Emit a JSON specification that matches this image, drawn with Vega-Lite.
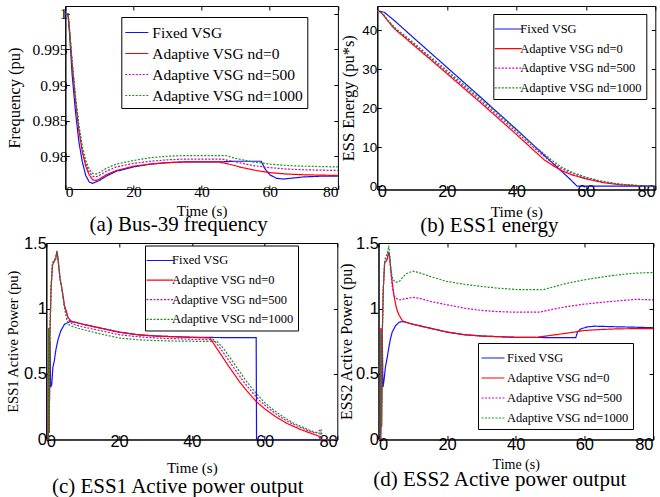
{
"$schema": "https://vega.github.io/schema/vega-lite/v6.json",
"padding": {"left": 4.3, "top": 5, "right": 0, "bottom": 0},
"background": "white",
"config": {
 "view": {"stroke": "#000", "strokeWidth": 1},
 "axis": {"grid": false, "domainColor": "#000", "domainWidth": 1, "tickColor": "#000", "tickSize": -4, "labelColor": "#000", "titleColor": "#000", "titleFontWeight": "normal", "labelFont": "Liberation Sans", "titleFont": "Liberation Serif", "labelAngle": 0},
 "legend": {"orient": "none", "strokeColor": "#000", "fillColor": "#fff", "padding": 4, "symbolStrokeWidth": 1.3, "labelFont": "Liberation Serif", "labelColor": "#000", "labelOffset": 3, "rowPadding": 0, "cornerRadius": 0, "labelLimit": 400},
 "title": {"font": "Liberation Serif", "fontSize": 21, "fontWeight": "normal", "color": "#000", "anchor": "middle"},
 "line": {"strokeWidth": 1.2}
},
"datasets": {
 "a": [
  {"s":"F","t":0,"v":1},{"s":"F","t":0.8,"v":1},{"s":"F","t":1.2,"v":0.9975},{"s":"F","t":2,"v":0.9915},{"s":"F","t":3,"v":0.9862},{"s":"F","t":4,"v":0.982},{"s":"F","t":5,"v":0.9792},{"s":"F","t":6,"v":0.9773},{"s":"F","t":7,"v":0.9764},{"s":"F","t":8,"v":0.9762},{"s":"F","t":10,"v":0.9766},{"s":"F","t":12,"v":0.9772},{"s":"F","t":15,"v":0.9779},{"s":"F","t":20,"v":0.9785},{"s":"F","t":25,"v":0.9789},{"s":"F","t":30,"v":0.9791},{"s":"F","t":35,"v":0.9792},{"s":"F","t":40,"v":0.9792},{"s":"F","t":45,"v":0.9792},{"s":"F","t":50,"v":0.9793},{"s":"F","t":57.5,"v":0.9793},{"s":"F","t":58.5,"v":0.9783},{"s":"F","t":60,"v":0.9774},{"s":"F","t":62,"v":0.9769},{"s":"F","t":64,"v":0.9768},{"s":"F","t":66,"v":0.9769},{"s":"F","t":70,"v":0.9771},{"s":"F","t":75,"v":0.9772},{"s":"F","t":80,"v":0.9772},
  {"s":"A0","t":0,"v":1},{"s":"A0","t":0.8,"v":1},{"s":"A0","t":1.2,"v":0.998},{"s":"A0","t":2,"v":0.993},{"s":"A0","t":3,"v":0.9878},{"s":"A0","t":4,"v":0.9836},{"s":"A0","t":5,"v":0.9806},{"s":"A0","t":6,"v":0.9786},{"s":"A0","t":7,"v":0.9774},{"s":"A0","t":8,"v":0.9767},{"s":"A0","t":9,"v":0.9766},{"s":"A0","t":10,"v":0.9768},{"s":"A0","t":12,"v":0.9774},{"s":"A0","t":15,"v":0.978},{"s":"A0","t":20,"v":0.9786},{"s":"A0","t":25,"v":0.9789},{"s":"A0","t":30,"v":0.9791},{"s":"A0","t":35,"v":0.9792},{"s":"A0","t":40,"v":0.9792},{"s":"A0","t":45,"v":0.9792},{"s":"A0","t":48,"v":0.9789},{"s":"A0","t":52,"v":0.9784},{"s":"A0","t":56,"v":0.978},{"s":"A0","t":60,"v":0.9777},{"s":"A0","t":65,"v":0.9775},{"s":"A0","t":70,"v":0.9774},{"s":"A0","t":80,"v":0.9773},
  {"s":"A500","t":0,"v":1},{"s":"A500","t":0.8,"v":1},{"s":"A500","t":1.2,"v":0.998},{"s":"A500","t":2,"v":0.9932},{"s":"A500","t":3,"v":0.9881},{"s":"A500","t":4,"v":0.984},{"s":"A500","t":5,"v":0.981},{"s":"A500","t":6,"v":0.979},{"s":"A500","t":7,"v":0.9778},{"s":"A500","t":8,"v":0.9772},{"s":"A500","t":9,"v":0.9771},{"s":"A500","t":10,"v":0.9773},{"s":"A500","t":12,"v":0.9779},{"s":"A500","t":15,"v":0.9785},{"s":"A500","t":20,"v":0.979},{"s":"A500","t":25,"v":0.9793},{"s":"A500","t":30,"v":0.9795},{"s":"A500","t":35,"v":0.9796},{"s":"A500","t":40,"v":0.9796},{"s":"A500","t":46,"v":0.9796},{"s":"A500","t":50,"v":0.9792},{"s":"A500","t":55,"v":0.9787},{"s":"A500","t":60,"v":0.9784},{"s":"A500","t":65,"v":0.9782},{"s":"A500","t":70,"v":0.9781},{"s":"A500","t":80,"v":0.978},
  {"s":"A1000","t":0,"v":1},{"s":"A1000","t":0.8,"v":1},{"s":"A1000","t":1.2,"v":0.998},{"s":"A1000","t":2,"v":0.9934},{"s":"A1000","t":3,"v":0.9884},{"s":"A1000","t":4,"v":0.9844},{"s":"A1000","t":5,"v":0.9814},{"s":"A1000","t":6,"v":0.9794},{"s":"A1000","t":7,"v":0.9782},{"s":"A1000","t":8,"v":0.9776},{"s":"A1000","t":9,"v":0.9775},{"s":"A1000","t":10,"v":0.9777},{"s":"A1000","t":12,"v":0.9783},{"s":"A1000","t":15,"v":0.9789},{"s":"A1000","t":20,"v":0.9794},{"s":"A1000","t":25,"v":0.9798},{"s":"A1000","t":30,"v":0.98},{"s":"A1000","t":35,"v":0.9801},{"s":"A1000","t":40,"v":0.9801},{"s":"A1000","t":47,"v":0.9801},{"s":"A1000","t":50,"v":0.9797},{"s":"A1000","t":55,"v":0.9792},{"s":"A1000","t":60,"v":0.9789},{"s":"A1000","t":65,"v":0.9787},{"s":"A1000","t":70,"v":0.9786},{"s":"A1000","t":80,"v":0.9785}
 ],
 "b": [
  {"s":"F","t":0,"v":45},{"s":"F","t":2,"v":44.6},{"s":"F","t":5,"v":42.4},{"s":"F","t":10,"v":38.4},{"s":"F","t":20,"v":30.5},{"s":"F","t":30,"v":22.6},{"s":"F","t":40,"v":14.6},{"s":"F","t":50,"v":6.3},{"s":"F","t":55,"v":2.2},{"s":"F","t":57.5,"v":0},{"s":"F","t":80,"v":0},
  {"s":"A0","t":0,"v":45},{"s":"A0","t":1,"v":44.6},{"s":"A0","t":2,"v":43.6},{"s":"A0","t":3,"v":42.4},{"s":"A0","t":5,"v":40.3},{"s":"A0","t":7,"v":38.8},{"s":"A0","t":10,"v":36.5},{"s":"A0","t":15,"v":32.7},{"s":"A0","t":20,"v":28.9},{"s":"A0","t":30,"v":21.2},{"s":"A0","t":40,"v":13.3},{"s":"A0","t":45,"v":9.2},{"s":"A0","t":48,"v":6.8},{"s":"A0","t":50,"v":5.6},{"s":"A0","t":53,"v":4},{"s":"A0","t":56,"v":2.9},{"s":"A0","t":60,"v":1.9},{"s":"A0","t":65,"v":0.9},{"s":"A0","t":70,"v":0.35},{"s":"A0","t":75,"v":0.1},
  {"s":"A500","t":0,"v":45},{"s":"A500","t":1,"v":44.6},{"s":"A500","t":2,"v":43.7},{"s":"A500","t":3,"v":42.5},{"s":"A500","t":5,"v":40.5},{"s":"A500","t":10,"v":36.8},{"s":"A500","t":20,"v":29.3},{"s":"A500","t":30,"v":21.7},{"s":"A500","t":40,"v":13.9},{"s":"A500","t":45,"v":9.9},{"s":"A500","t":50,"v":6.2},{"s":"A500","t":53,"v":4.5},{"s":"A500","t":56,"v":3.3},{"s":"A500","t":60,"v":2.1},{"s":"A500","t":65,"v":1.1},{"s":"A500","t":70,"v":0.5},{"s":"A500","t":76,"v":0.1},{"s":"A500","t":80,"v":0.05},
  {"s":"A1000","t":0,"v":45},{"s":"A1000","t":1,"v":44.6},{"s":"A1000","t":2,"v":43.8},{"s":"A1000","t":3,"v":42.6},{"s":"A1000","t":5,"v":40.7},{"s":"A1000","t":10,"v":37.1},{"s":"A1000","t":20,"v":29.7},{"s":"A1000","t":30,"v":22.2},{"s":"A1000","t":40,"v":14.4},{"s":"A1000","t":45,"v":10.5},{"s":"A1000","t":50,"v":6.8},{"s":"A1000","t":53,"v":4.9},{"s":"A1000","t":56,"v":3.6},{"s":"A1000","t":60,"v":2.3},{"s":"A1000","t":65,"v":1.2},{"s":"A1000","t":70,"v":0.5},{"s":"A1000","t":76,"v":0.1},{"s":"A1000","t":80,"v":0.05}
 ],
 "c": [
  {"s":"F","t":0,"v":0},{"s":"F","t":0.55,"v":0},{"s":"F","t":0.65,"v":0.85},{"s":"F","t":0.8,"v":0.05},{"s":"F","t":1,"v":0.75},{"s":"F","t":1.2,"v":0.4},{"s":"F","t":1.5,"v":0.42},{"s":"F","t":1.8,"v":0.55},{"s":"F","t":2.2,"v":0.6},{"s":"F","t":2.6,"v":0.68},{"s":"F","t":3.2,"v":0.76},{"s":"F","t":4,"v":0.83},{"s":"F","t":5,"v":0.88},{"s":"F","t":6.5,"v":0.9},{"s":"F","t":8,"v":0.895},{"s":"F","t":10,"v":0.88},{"s":"F","t":15,"v":0.85},{"s":"F","t":20,"v":0.82},{"s":"F","t":25,"v":0.8},{"s":"F","t":30,"v":0.79},{"s":"F","t":35,"v":0.785},{"s":"F","t":40,"v":0.78},{"s":"F","t":50,"v":0.778},{"s":"F","t":57.7,"v":0.778},{"s":"F","t":57.8,"v":0},{"s":"F","t":80,"v":0},
  {"s":"A0","t":0,"v":0},{"s":"A0","t":0.55,"v":0},{"s":"A0","t":0.65,"v":0.85},{"s":"A0","t":0.8,"v":0.05},{"s":"A0","t":1,"v":0.8},{"s":"A0","t":1.3,"v":1.15},{"s":"A0","t":1.7,"v":1.33},{"s":"A0","t":2.2,"v":1.36},{"s":"A0","t":2.6,"v":1.38},{"s":"A0","t":2.9,"v":1.44},{"s":"A0","t":3.2,"v":1.38},{"s":"A0","t":3.5,"v":1.3},{"s":"A0","t":3.8,"v":1.22},{"s":"A0","t":4.2,"v":1.17},{"s":"A0","t":4.6,"v":1.1},{"s":"A0","t":5,"v":1.02},{"s":"A0","t":5.5,"v":0.98},{"s":"A0","t":6,"v":0.93},{"s":"A0","t":7,"v":0.9},{"s":"A0","t":8,"v":0.895},{"s":"A0","t":10,"v":0.88},{"s":"A0","t":15,"v":0.85},{"s":"A0","t":20,"v":0.82},{"s":"A0","t":25,"v":0.8},{"s":"A0","t":30,"v":0.79},{"s":"A0","t":35,"v":0.785},{"s":"A0","t":40,"v":0.78},{"s":"A0","t":45,"v":0.775},{"s":"A0","t":47,"v":0.69},{"s":"A0","t":50,"v":0.565},{"s":"A0","t":53,"v":0.445},{"s":"A0","t":55,"v":0.375},{"s":"A0","t":57.7,"v":0.29},{"s":"A0","t":60,"v":0.235},{"s":"A0","t":63,"v":0.175},{"s":"A0","t":66,"v":0.125},{"s":"A0","t":70,"v":0.075},{"s":"A0","t":73,"v":0.045},{"s":"A0","t":75,"v":0.025},{"s":"A0","t":75.3,"v":0},{"s":"A0","t":80,"v":0},
  {"s":"A500","t":0,"v":0},{"s":"A500","t":0.55,"v":0},{"s":"A500","t":0.65,"v":0.85},{"s":"A500","t":0.8,"v":0.05},{"s":"A500","t":1,"v":0.8},{"s":"A500","t":1.3,"v":1.15},{"s":"A500","t":1.7,"v":1.34},{"s":"A500","t":2.2,"v":1.37},{"s":"A500","t":2.6,"v":1.38},{"s":"A500","t":2.9,"v":1.43},{"s":"A500","t":3.2,"v":1.38},{"s":"A500","t":3.5,"v":1.3},{"s":"A500","t":3.8,"v":1.22},{"s":"A500","t":4.2,"v":1.16},{"s":"A500","t":4.6,"v":1.09},{"s":"A500","t":5,"v":1.02},{"s":"A500","t":5.5,"v":0.97},{"s":"A500","t":6,"v":0.92},{"s":"A500","t":7,"v":0.885},{"s":"A500","t":8,"v":0.875},{"s":"A500","t":10,"v":0.86},{"s":"A500","t":15,"v":0.83},{"s":"A500","t":20,"v":0.8},{"s":"A500","t":25,"v":0.785},{"s":"A500","t":30,"v":0.775},{"s":"A500","t":35,"v":0.77},{"s":"A500","t":40,"v":0.765},{"s":"A500","t":46,"v":0.762},{"s":"A500","t":48,"v":0.69},{"s":"A500","t":51,"v":0.57},{"s":"A500","t":54,"v":0.45},{"s":"A500","t":56,"v":0.38},{"s":"A500","t":58.7,"v":0.295},{"s":"A500","t":61,"v":0.24},{"s":"A500","t":64,"v":0.178},{"s":"A500","t":67,"v":0.128},{"s":"A500","t":71,"v":0.078},{"s":"A500","t":74,"v":0.047},{"s":"A500","t":75.2,"v":0.07},{"s":"A500","t":75.5,"v":0},{"s":"A500","t":80,"v":0},
  {"s":"A1000","t":0,"v":0},{"s":"A1000","t":0.55,"v":0},{"s":"A1000","t":0.65,"v":0.85},{"s":"A1000","t":0.8,"v":0.05},{"s":"A1000","t":1,"v":0.8},{"s":"A1000","t":1.3,"v":1.15},{"s":"A1000","t":1.7,"v":1.35},{"s":"A1000","t":2.2,"v":1.37},{"s":"A1000","t":2.6,"v":1.39},{"s":"A1000","t":3,"v":1.44},{"s":"A1000","t":3.3,"v":1.37},{"s":"A1000","t":3.6,"v":1.28},{"s":"A1000","t":4,"v":1.2},{"s":"A1000","t":4.5,"v":1.1},{"s":"A1000","t":5,"v":1.0},{"s":"A1000","t":5.5,"v":0.93},{"s":"A1000","t":6,"v":0.88},{"s":"A1000","t":7,"v":0.865},{"s":"A1000","t":8,"v":0.855},{"s":"A1000","t":10,"v":0.84},{"s":"A1000","t":15,"v":0.805},{"s":"A1000","t":20,"v":0.775},{"s":"A1000","t":25,"v":0.762},{"s":"A1000","t":30,"v":0.755},{"s":"A1000","t":35,"v":0.752},{"s":"A1000","t":40,"v":0.75},{"s":"A1000","t":47,"v":0.748},{"s":"A1000","t":49,"v":0.685},{"s":"A1000","t":52,"v":0.565},{"s":"A1000","t":55,"v":0.445},{"s":"A1000","t":57,"v":0.375},{"s":"A1000","t":59.7,"v":0.29},{"s":"A1000","t":62,"v":0.235},{"s":"A1000","t":65,"v":0.175},{"s":"A1000","t":68,"v":0.125},{"s":"A1000","t":72,"v":0.075},{"s":"A1000","t":75,"v":0.045},{"s":"A1000","t":75.6,"v":0.07},{"s":"A1000","t":75.9,"v":0},{"s":"A1000","t":80,"v":0}
 ],
 "d": [
  {"s":"F","t":0,"v":0},{"s":"F","t":0.6,"v":0},{"s":"F","t":0.7,"v":0.08},{"s":"F","t":0.9,"v":0.3},{"s":"F","t":1.1,"v":0.8},{"s":"F","t":1.3,"v":0.4},{"s":"F","t":1.6,"v":0.45},{"s":"F","t":2,"v":0.55},{"s":"F","t":2.5,"v":0.62},{"s":"F","t":3,"v":0.7},{"s":"F","t":3.5,"v":0.77},{"s":"F","t":4,"v":0.82},{"s":"F","t":5,"v":0.87},{"s":"F","t":6,"v":0.895},{"s":"F","t":7,"v":0.9},{"s":"F","t":8,"v":0.895},{"s":"F","t":10,"v":0.88},{"s":"F","t":15,"v":0.85},{"s":"F","t":20,"v":0.82},{"s":"F","t":25,"v":0.8},{"s":"F","t":30,"v":0.79},{"s":"F","t":35,"v":0.785},{"s":"F","t":40,"v":0.78},{"s":"F","t":50,"v":0.778},{"s":"F","t":57.5,"v":0.778},{"s":"F","t":58,"v":0.82},{"s":"F","t":59,"v":0.845},{"s":"F","t":61,"v":0.86},{"s":"F","t":63,"v":0.865},{"s":"F","t":70,"v":0.86},{"s":"F","t":75,"v":0.857},{"s":"F","t":80,"v":0.853},
  {"s":"A0","t":0,"v":0},{"s":"A0","t":0.6,"v":0},{"s":"A0","t":0.7,"v":0.85},{"s":"A0","t":0.9,"v":0.1},{"s":"A0","t":1.1,"v":0.8},{"s":"A0","t":1.4,"v":1.15},{"s":"A0","t":1.8,"v":1.35},{"s":"A0","t":2.2,"v":1.36},{"s":"A0","t":2.6,"v":1.38},{"s":"A0","t":2.9,"v":1.43},{"s":"A0","t":3.2,"v":1.4},{"s":"A0","t":3.6,"v":1.3},{"s":"A0","t":4,"v":1.2},{"s":"A0","t":4.5,"v":1.1},{"s":"A0","t":5,"v":1.03},{"s":"A0","t":5.5,"v":0.98},{"s":"A0","t":6,"v":0.95},{"s":"A0","t":7,"v":0.905},{"s":"A0","t":8,"v":0.895},{"s":"A0","t":10,"v":0.88},{"s":"A0","t":15,"v":0.85},{"s":"A0","t":20,"v":0.82},{"s":"A0","t":25,"v":0.8},{"s":"A0","t":30,"v":0.79},{"s":"A0","t":35,"v":0.785},{"s":"A0","t":40,"v":0.78},{"s":"A0","t":46,"v":0.78},{"s":"A0","t":50,"v":0.794},{"s":"A0","t":55,"v":0.812},{"s":"A0","t":60,"v":0.832},{"s":"A0","t":65,"v":0.84},{"s":"A0","t":70,"v":0.845},{"s":"A0","t":80,"v":0.847},
  {"s":"A500","t":0,"v":0},{"s":"A500","t":0.6,"v":0},{"s":"A500","t":0.7,"v":0.85},{"s":"A500","t":0.9,"v":0.1},{"s":"A500","t":1.1,"v":0.8},{"s":"A500","t":1.4,"v":1.15},{"s":"A500","t":1.8,"v":1.35},{"s":"A500","t":2.2,"v":1.37},{"s":"A500","t":2.6,"v":1.39},{"s":"A500","t":2.9,"v":1.43},{"s":"A500","t":3.2,"v":1.4},{"s":"A500","t":3.5,"v":1.3},{"s":"A500","t":4,"v":1.17},{"s":"A500","t":4.5,"v":1.1},{"s":"A500","t":5,"v":1.08},{"s":"A500","t":6,"v":1.065},{"s":"A500","t":8,"v":1.075},{"s":"A500","t":10,"v":1.085},{"s":"A500","t":12,"v":1.078},{"s":"A500","t":15,"v":1.055},{"s":"A500","t":20,"v":1.028},{"s":"A500","t":25,"v":1.003},{"s":"A500","t":30,"v":0.985},{"s":"A500","t":35,"v":0.976},{"s":"A500","t":40,"v":0.972},{"s":"A500","t":47,"v":0.972},{"s":"A500","t":50,"v":0.99},{"s":"A500","t":55,"v":1.015},{"s":"A500","t":60,"v":1.033},{"s":"A500","t":65,"v":1.047},{"s":"A500","t":70,"v":1.059},{"s":"A500","t":75,"v":1.07},{"s":"A500","t":80,"v":1.066},
  {"s":"A1000","t":0,"v":0},{"s":"A1000","t":0.6,"v":0},{"s":"A1000","t":0.7,"v":0.82},{"s":"A1000","t":0.9,"v":0.1},{"s":"A1000","t":1.1,"v":0.8},{"s":"A1000","t":1.4,"v":1.15},{"s":"A1000","t":1.8,"v":1.37},{"s":"A1000","t":2.2,"v":1.4},{"s":"A1000","t":2.6,"v":1.42},{"s":"A1000","t":3,"v":1.48},{"s":"A1000","t":3.3,"v":1.4},{"s":"A1000","t":3.7,"v":1.28},{"s":"A1000","t":4.2,"v":1.22},{"s":"A1000","t":5,"v":1.2},{"s":"A1000","t":6,"v":1.205},{"s":"A1000","t":7,"v":1.235},{"s":"A1000","t":8,"v":1.265},{"s":"A1000","t":10,"v":1.285},{"s":"A1000","t":12,"v":1.272},{"s":"A1000","t":15,"v":1.245},{"s":"A1000","t":20,"v":1.206},{"s":"A1000","t":25,"v":1.185},{"s":"A1000","t":30,"v":1.168},{"s":"A1000","t":35,"v":1.155},{"s":"A1000","t":40,"v":1.145},{"s":"A1000","t":48,"v":1.143},{"s":"A1000","t":50,"v":1.158},{"s":"A1000","t":55,"v":1.193},{"s":"A1000","t":60,"v":1.219},{"s":"A1000","t":65,"v":1.24},{"s":"A1000","t":70,"v":1.257},{"s":"A1000","t":75,"v":1.27},{"s":"A1000","t":80,"v":1.275}
 ]
},
"spacing": -3,
"resolve": {"legend": {"color": "independent"}},
"vconcat": [
 {"hconcat": [
  {"width": 18.4, "height": 1, "data": {"values": []}, "mark": {"type": "point"}, "encoding": {}, "view": {"stroke": null}},
  {"width": 272.6, "height": 183, "data": {"name": "a"},
   "title": {"text": "(a) Bus-39 frequency", "orient": "bottom", "dx": -23, "offset": -4.5},
   "resolve": {"axis": {"x": "independent", "y": "independent"}},
   "layer": [
    {"mark": {"type": "line", "clip": true},
     "encoding": {
      "x": {"field": "t", "type": "quantitative", "scale": {"domain": [0, 80], "nice": false}, "axis": {"values": [0, 20, 40, 60, 80], "title": "Time (s)", "titleFont": "Liberation Serif", "titleFontWeight": "normal", "labelFont": "Liberation Serif", "labelFontSize": 15.5, "titleFontSize": 15, "labelPadding": -1, "titlePadding": 4}},
      "y": {"field": "v", "type": "quantitative", "scale": {"domain": [0.9754, 1.0011], "nice": false, "zero": false}, "axis": {"values": [0.98, 0.985, 0.99, 0.995, 1], "format": "~g", "title": "Frequency (pu)", "titleFont": "Liberation Serif", "titleFontWeight": "normal", "labelFont": "Liberation Serif", "labelFontSize": 15.5, "titleFontSize": 16.5, "labelPadding": 2.4, "titlePadding": 10}},
      "color": {"field": "s", "type": "nominal", "scale": {"domain": ["F", "A0", "A500", "A1000"], "range": ["#1010ff", "#ff0000", "#cc00cc", "#119911"]}, "legend": {"title": null, "legendX": 56, "legendY": 11, "labelFontSize": 15.5, "symbolType": "M-1.1,0H1.1", "symbolSize": 441, "rowPadding": 1, "labelOffset": 4, "symbolDash": {"expr": "datum.value == 'A500' || datum.value == 'A1000' ? [2, 1.5] : [1, 0]"}, "labelExpr": "{'F':'Fixed VSG','A0':'Adaptive VSG nd=0','A500':'Adaptive VSG nd=500','A1000':'Adaptive VSG nd=1000'}[datum.label]"}},
      "strokeDash": {"field": "s", "type": "nominal", "scale": {"domain": ["F", "A0", "A500", "A1000"], "range": [[1, 0], [1, 0], [2, 1.5], [2, 1.5]]}, "legend": null}
     }},
    {"mark": {"type": "point", "opacity": 0},
     "encoding": {
      "x": {"field": "t", "type": "quantitative", "axis": {"orient": "top", "values": [0, 20, 40, 60, 80], "labels": false, "title": null, "domain": false}},
      "y": {"field": "v", "type": "quantitative", "axis": {"orient": "right", "values": [0.98, 0.985, 0.99, 0.995, 1], "labels": false, "title": null, "domain": false}}
     }}
   ]},
  {"width": 39, "height": 1, "data": {"values": []}, "mark": {"type": "point"}, "encoding": {}, "view": {"stroke": null}},
  {"width": 278, "height": 183.5, "data": {"name": "b"},
   "title": {"text": "(b) ESS1 energy", "orient": "bottom", "dx": -27, "offset": -4.5},
   "resolve": {"axis": {"x": "independent", "y": "independent"}},
   "layer": [
    {"mark": {"type": "line", "clip": true},
     "encoding": {
      "x": {"field": "t", "type": "quantitative", "scale": {"domain": [0, 80], "nice": false}, "axis": {"values": [0, 20, 40, 60, 80], "title": "Time (s)", "titleFont": "Liberation Serif", "titleFontWeight": "normal", "labelFontSize": 16.5, "titleFontSize": 15.5, "labelPadding": -2, "titlePadding": 4}},
      "y": {"field": "v", "type": "quantitative", "scale": {"domain": [-0.85, 46.2], "nice": false, "zero": false}, "axis": {"values": [0, 10, 20, 30, 40], "title": "ESS Energy (pu*s)", "titleFont": "Liberation Serif", "titleFontWeight": "normal", "labelFontSize": 13.5, "titleFontSize": 16.5, "labelPadding": 4.6, "titlePadding": 5}},
      "color": {"field": "s", "type": "nominal", "scale": {"domain": ["F", "A0", "A500", "A1000"], "range": ["#1010ff", "#ff0000", "#cc00cc", "#119911"]}, "legend": {"title": null, "legendX": 116, "legendY": 8, "labelFontSize": 12.5, "symbolType": "M-1.35,0H1.35", "symbolSize": 400, "rowPadding": 1.6, "labelOffset": 1, "symbolDash": {"expr": "datum.value == 'A500' || datum.value == 'A1000' ? [2, 1.5] : [1, 0]"}, "labelExpr": "{'F':'Fixed VSG','A0':'Adaptive VSG nd=0','A500':'Adaptive VSG nd=500','A1000':'Adaptive VSG nd=1000'}[datum.label]"}},
      "strokeDash": {"field": "s", "type": "nominal", "scale": {"domain": ["F", "A0", "A500", "A1000"], "range": [[1, 0], [1, 0], [2, 1.5], [2, 1.5]]}, "legend": null}
     }},
    {"mark": {"type": "point", "opacity": 0},
     "encoding": {
      "x": {"field": "t", "type": "quantitative", "axis": {"orient": "top", "values": [0, 20, 40, 60, 80], "labels": false, "title": null, "domain": false}},
      "y": {"field": "v", "type": "quantitative", "axis": {"orient": "right", "values": [0, 10, 20, 30, 40], "labels": false, "title": null, "domain": false}}
     }}
   ]}
 ], "spacing": 0, "bounds": "flush",
 "resolve": {"legend": {"color": "independent"}}},
 {"hconcat": [
  {"width": 291, "height": 196.5, "data": {"name": "c"},
   "title": {"text": "(c) ESS1 Active power output", "orient": "bottom", "dx": -14, "offset": 0.3},
   "resolve": {"axis": {"x": "independent", "y": "independent"}},
   "layer": [
    {"mark": {"type": "line", "clip": true},
     "encoding": {
      "x": {"field": "t", "type": "quantitative", "scale": {"domain": [0, 80], "nice": false}, "axis": {"values": [0, 20, 40, 60, 80], "title": "Time (s)", "titleFont": "Liberation Serif", "titleFontWeight": "normal", "labelFontSize": 16.5, "titleFontSize": 15, "labelPadding": -2, "titlePadding": 11}},
      "y": {"field": "v", "type": "quantitative", "scale": {"domain": [0, 1.5], "nice": false, "zero": false}, "axis": {"values": [0, 0.5, 1, 1.5], "format": "~g", "title": "ESS1  Active Power (pu)", "titleFont": "Liberation Serif", "titleFontWeight": "normal", "labelFontSize": 16.5, "titleFontSize": 14.5, "labelPadding": 4, "titlePadding": 3}},
      "color": {"field": "s", "type": "nominal", "scale": {"domain": ["F", "A0", "A500", "A1000"], "range": ["#1010ff", "#ff0000", "#cc00cc", "#119911"]}, "legend": {"title": null, "legendX": 98.7, "legendY": 2.5, "labelFontSize": 12.5, "symbolType": "M-1.35,0H1.35", "symbolSize": 400, "rowPadding": 1.6, "labelOffset": 1, "symbolDash": {"expr": "datum.value == 'A500' || datum.value == 'A1000' ? [2, 1.5] : [1, 0]"}, "labelExpr": "{'F':'Fixed VSG','A0':'Adaptive VSG nd=0','A500':'Adaptive VSG nd=500','A1000':'Adaptive VSG nd=1000'}[datum.label]"}},
      "strokeDash": {"field": "s", "type": "nominal", "scale": {"domain": ["F", "A0", "A500", "A1000"], "range": [[1, 0], [1, 0], [2, 1.5], [2, 1.5]]}, "legend": null}
     }},
    {"mark": {"type": "point", "opacity": 0},
     "encoding": {
      "x": {"field": "t", "type": "quantitative", "axis": {"orient": "top", "values": [0, 20, 40, 60, 80], "labels": false, "title": null, "domain": false}},
      "y": {"field": "v", "type": "quantitative", "axis": {"orient": "right", "values": [0, 0.5, 1, 1.5], "labels": false, "title": null, "domain": false}}
     }}
   ]},
  {"width": 274.5, "height": 196.5, "data": {"name": "d"},
   "title": {"text": "(d) ESS2 Active power output", "orient": "bottom", "dx": -16, "offset": -2.2},
   "resolve": {"axis": {"x": "independent", "y": "independent"}},
   "layer": [
    {"mark": {"type": "line", "clip": true},
     "encoding": {
      "x": {"field": "t", "type": "quantitative", "scale": {"domain": [0, 80], "nice": false}, "axis": {"values": [0, 20, 40, 60, 80], "title": "Time (s)", "titleFont": "Liberation Serif", "titleFontWeight": "normal", "labelFontSize": 16.5, "titleFontSize": 14, "labelPadding": 1, "titlePadding": 4.5}},
      "y": {"field": "v", "type": "quantitative", "scale": {"domain": [0, 1.5], "nice": false, "zero": false}, "axis": {"values": [0, 0.5, 1, 1.5], "format": "~g", "title": "ESS2 Active Power (pu)", "titleFont": "Liberation Serif", "titleFontWeight": "normal", "labelFontSize": 16.5, "titleFontSize": 16, "labelPadding": 4, "titlePadding": 1}},
      "color": {"field": "s", "type": "nominal", "scale": {"domain": ["F", "A0", "A500", "A1000"], "range": ["#1010ff", "#ff0000", "#cc00cc", "#119911"]}, "legend": {"title": null, "legendX": 99.5, "legendY": 100, "labelFontSize": 12.5, "symbolType": "M-1.15,0H1.15", "symbolSize": 400, "rowPadding": 2, "labelOffset": 3, "symbolDash": {"expr": "datum.value == 'A500' || datum.value == 'A1000' ? [2, 1.5] : [1, 0]"}, "labelExpr": "{'F':'Fixed VSG','A0':'Adaptive VSG nd=0','A500':'Adaptive VSG nd=500','A1000':'Adaptive VSG nd=1000'}[datum.label]"}},
      "strokeDash": {"field": "s", "type": "nominal", "scale": {"domain": ["F", "A0", "A500", "A1000"], "range": [[1, 0], [1, 0], [2, 1.5], [2, 1.5]]}, "legend": null}
     }},
    {"mark": {"type": "point", "opacity": 0},
     "encoding": {
      "x": {"field": "t", "type": "quantitative", "axis": {"orient": "top", "values": [0, 20, 40, 60, 80], "labels": false, "title": null, "domain": false}},
      "y": {"field": "v", "type": "quantitative", "axis": {"orient": "right", "values": [0, 0.5, 1, 1.5], "labels": false, "title": null, "domain": false}}
     }}
   ]}
 ], "spacing": 41.2, "bounds": "flush",
 "resolve": {"legend": {"color": "independent"}}}
]
}
